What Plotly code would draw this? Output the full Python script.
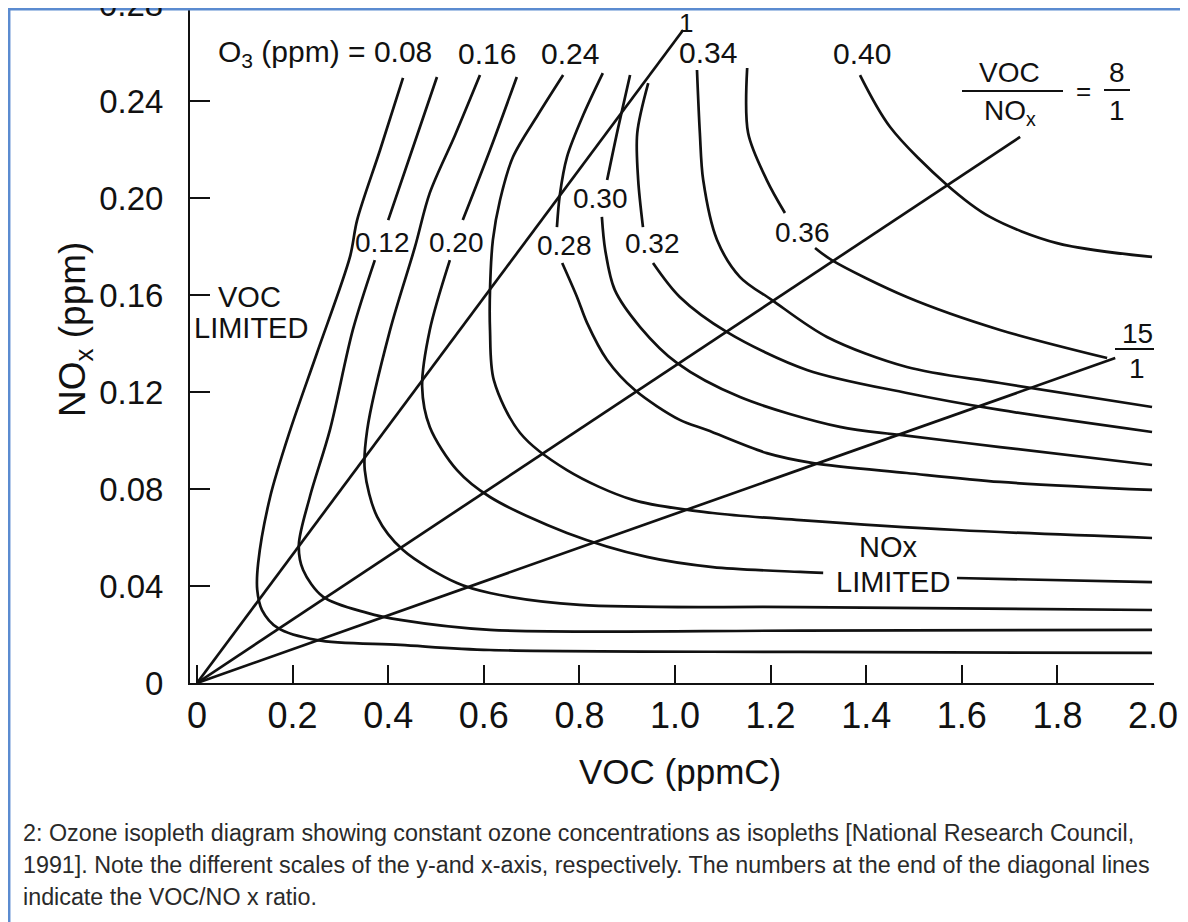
import plotly.graph_objects as go

# ---------------- data ----------------
o3_levels = ["0.08", "0.12", "0.16", "0.20", "0.24", "0.28", "0.30", "0.32", "0.34", "0.36", "0.40"]

iso_008_voc = [0.431, 0.383, 0.335, 0.320, 0.251, 0.195, 0.153, 0.128, 0.126, 0.136, 0.169, 0.251, 0.425, 0.613, 1.262, 1.998]
iso_008_nox = [0.2495, 0.2198, 0.1909, 0.1757, 0.1361, 0.1043, 0.0767, 0.0495, 0.0384, 0.0301, 0.0227, 0.0177, 0.0157, 0.0136, 0.0128, 0.0124]

iso_012_voc = [0.502, 0.450, 0.400, None, 0.372, 0.326, 0.278, 0.236, 0.213, 0.222, 0.264, 0.356, 0.425, 0.613, 1.262, 1.998]
iso_012_nox = [0.2499, 0.2198, 0.1909, None, 0.1744, 0.1456, 0.1043, 0.0767, 0.0569, 0.0466, 0.0355, 0.0289, 0.0260, 0.0219, 0.0216, 0.0219]

iso_016_voc = [0.592, 0.540, 0.487, 0.456, 0.404, 0.356, 0.351, 0.377, 0.431, 0.544, 0.613, 0.801, 1.262, 1.998]
iso_016_nox = [0.2507, 0.2260, 0.2021, 0.1798, 0.1456, 0.1043, 0.0878, 0.0685, 0.0548, 0.0412, 0.0371, 0.0322, 0.0313, 0.0301]

iso_020_voc = [0.669, 0.613, 0.556, None, 0.529, 0.487, 0.471, 0.487, 0.544, 0.613, 0.774, 0.941, 1.079, 1.262, 1.310, None, 1.590, 1.998]
iso_020_nox = [0.2499, 0.2198, 0.1909, None, 0.1744, 0.1456, 0.1221, 0.1056, 0.0878, 0.0767, 0.0619, 0.0520, 0.0478, 0.0458, 0.0454, None, 0.0433, 0.0416]

iso_024_voc = [0.766, 0.713, 0.661, 0.634, 0.619, 0.613, 0.613, 0.621, 0.676, 0.774, 0.912, 1.079, 1.262, 1.590, 1.998]
iso_024_nox = [0.2507, 0.2342, 0.2169, 0.1992, 0.1827, 0.1621, 0.1456, 0.1249, 0.1031, 0.0878, 0.0755, 0.0701, 0.0672, 0.0631, 0.0598]

iso_028_voc = [0.849, 0.808, 0.774, 0.759, 0.753, None, 0.764, 0.795, 0.816, 0.858, 0.916, 1.010, 1.067, 1.192, 1.289, 1.485, 1.680, 1.998]
iso_028_nox = [0.2515, 0.2342, 0.2169, 0.2012, 0.1880, None, 0.1732, 0.1592, 0.1485, 0.1332, 0.1208, 0.1085, 0.1043, 0.0948, 0.0907, 0.0866, 0.0829, 0.0796]

iso_030_voc = [0.906, 0.881, 0.858, None, 0.847, 0.854, 0.874, 0.927, 1.004, 1.136, 1.345, 1.471, 1.680, 1.998]
iso_030_nox = [0.2507, 0.2289, 0.2074, None, 0.1922, 0.1786, 0.1621, 0.1468, 0.1320, 0.1179, 0.1056, 0.1023, 0.0973, 0.0899]

iso_032_voc = [0.944, 0.921, 0.923, 0.933, None, 0.954, 1.010, 1.109, 1.276, 1.485, 1.680, 1.998]
iso_032_nox = [0.2474, 0.2268, 0.2074, 0.1880, None, 0.1732, 0.1592, 0.1447, 0.1291, 0.1196, 0.1126, 0.1035]

iso_034_voc = [1.046, 1.052, 1.059, 1.088, 1.136, 1.203, 1.318, 1.485, 1.680, 1.998]
iso_034_nox = [0.2528, 0.2268, 0.2074, 0.1827, 0.1674, 0.1579, 0.1427, 0.1303, 0.1237, 0.1138]

iso_036_voc = [1.151, 1.153, 1.192, 1.230, None, 1.293, 1.328, 1.485, 1.680, 1.904]
iso_036_nox = [0.2536, 0.2268, 0.2074, 0.1938, None, 0.1794, 0.1744, 0.1592, 0.1456, 0.1340]

iso_040_voc = [1.387, 1.450, 1.569, 1.659, 1.799, 1.998]
iso_040_nox = [0.2507, 0.2293, 0.2054, 0.1922, 0.1814, 0.1757]

# VOC/NOx ratio lines: start at origin, end points
ratio_labels = ["1", "8/1", "15/1"]
ratio_end_voc = [1.017, 1.722, 1.921]
ratio_end_nox = [0.2693, 0.2252, 0.1340]

x_tickvals = [0, 0.2, 0.4, 0.6, 0.8, 1.0, 1.2, 1.4, 1.6, 1.8, 2.0]
x_ticktext = ["0", "0.2", "0.4", "0.6", "0.8", "1.0", "1.2", "1.4", "1.6", "1.8", "2.0"]
y_tickvals = [0, 0.04, 0.08, 0.12, 0.16, 0.20, 0.24, 0.28]
y_ticktext = ["0", "0.04", "0.08", "0.12", "0.16", "0.20", "0.24", "0.28"]

caption_lines = [
    "2: Ozone isopleth diagram showing constant ozone concentrations as isopleths [National Research Council,",
    "1991]. Note the different scales of the y-and x-axis, respectively. The numbers at the end of the diagonal lines",
    "indicate the VOC/NO x ratio.",
]

# ---------------- layout geometry ----------------
# reference-frame pixels; the page body adds an 8px offset, so the figure is drawn shifted by OFF
OFF = 8
W, H = 1188, 922
L, R, T, B = 190, 1154, OFF, 683          # plot area in reference pixels
X0_PX, PX_PER_X = 197, 478.0
PX_PER_Y = 2425.0
x_range = [(L - X0_PX) / PX_PER_X, (R - X0_PX) / PX_PER_X]
y_range = [0, (B - T) / PX_PER_Y]

def px(xp):
    return (xp - L) / (R - L)

def py(yp):
    return (B - yp) / (B - T)

def dx(xp):
    return (xp - X0_PX) / PX_PER_X

def dy(yp):
    return (B - yp) / PX_PER_Y

FONT = "Liberation Sans, Arial, Helvetica, sans-serif"
INK = "#111111"

fig = go.Figure()

iso_sets = [
    (iso_008_voc, iso_008_nox), (iso_012_voc, iso_012_nox), (iso_016_voc, iso_016_nox),
    (iso_020_voc, iso_020_nox), (iso_024_voc, iso_024_nox), (iso_028_voc, iso_028_nox),
    (iso_030_voc, iso_030_nox), (iso_032_voc, iso_032_nox), (iso_034_voc, iso_034_nox),
    (iso_036_voc, iso_036_nox), (iso_040_voc, iso_040_nox),
]
for lvl, (xs, ys) in zip(o3_levels, iso_sets):
    fig.add_trace(go.Scatter(x=xs, y=ys, mode="lines", name="O3 " + lvl,
                             line=dict(color=INK, width=2.7, shape="spline", smoothing=0.9),
                             connectgaps=False, hoverinfo="skip"))

for lab, ex, ey in zip(ratio_labels, ratio_end_voc, ratio_end_nox):
    fig.add_trace(go.Scatter(x=[0, ex], y=[0, ey], mode="lines", name="VOC/NOx " + lab,
                             line=dict(color=INK, width=2.7), hoverinfo="skip"))

annotations = []

def txt(text, x, y, size=29, xanchor="center", ref="data", color=INK, **kw):
    d = dict(text=text, x=x, y=y, showarrow=False, xanchor=xanchor, yanchor="middle",
             font=dict(family=FONT, size=size, color=color))
    if ref == "data":
        d.update(xref="x", yref="y")
    else:
        d.update(xref="paper", yref="paper")
    d.update(kw)
    annotations.append(d)

# isopleth labels (text from o3_levels)
txt("O<sub>3</sub> (ppm) = " + o3_levels[0], dx(216), dy(53), size=30, xanchor="left")
txt(o3_levels[2], dx(487), dy(53), size=30)
txt(o3_levels[4], dx(570), dy(53), size=30)
txt(o3_levels[8], dx(708), dy(52), size=30)
txt(o3_levels[10], dx(862), dy(53), size=30)
txt(o3_levels[1], dx(382), dy(242), size=28)
txt(o3_levels[3], dx(456), dy(242), size=28)
txt(o3_levels[6], dx(600), dy(198), size=28)
txt(o3_levels[5], dx(564), dy(245), size=28)
txt(o3_levels[7], dx(652), dy(243), size=28)
txt(o3_levels[9], dx(802), dy(232), size=28)

# region labels
txt("VOC", dx(216), dy(297), xanchor="left")
txt("LIMITED", dx(192), dy(328), xanchor="left")
txt("NOx", dx(888), dy(547))
txt("LIMITED", dx(893), dy(582))

# ratio labels
txt(ratio_labels[0], dx(686), dy(23), size=26)
txt("VOC", dx(1009), dy(72), size=28)
txt("NO<sub>x</sub>", dx(1010), dy(112), size=28)
txt("=", dx(1083), dy(91), size=26)
txt(ratio_labels[1].split("/")[0], dx(1117), dy(72), size=28)
txt(ratio_labels[1].split("/")[1], dx(1117), dy(110), size=28)
txt(ratio_labels[2].split("/")[0], dx(1137), dy(333), size=28)
txt(ratio_labels[2].split("/")[1], dx(1137), dy(368), size=28)

# top y tick label that is cut by the picture edge in the reference
txt(y_ticktext[-1], px(165), py(4), size=33, xanchor="right", ref="paper")

# axis titles
txt("VOC (ppmC)", px(680), py(771), size=35, ref="paper")
txt("NO<sub>x</sub> (ppm)", px(75), py(330), size=37, ref="paper", textangle=-90)

# caption
for i, line in enumerate(caption_lines):
    txt(line, px(21), py(833 + i * 32), size=23.3, xanchor="left", ref="paper", color="#2a2a2a")

shapes = [
    # fraction bars
    dict(type="line", xref="x", yref="y", x0=dx(962), x1=dx(1063), y0=dy(91), y1=dy(91),
         line=dict(color=INK, width=2)),
    dict(type="line", xref="x", yref="y", x0=dx(1104), x1=dx(1130), y0=dy(90), y1=dy(90),
         line=dict(color=INK, width=2)),
    dict(type="line", xref="x", yref="y", x0=dx(1115), x1=dx(1157), y0=dy(349), y1=dy(349),
         line=dict(color=INK, width=2)),
    # page border (blue)
    dict(type="line", xref="paper", yref="paper", x0=px(OFF), x1=px(1200), y0=py(OFF + 1.2), y1=py(OFF + 1.2),
         line=dict(color="#5b8bd0", width=2.5)),
    dict(type="line", xref="paper", yref="paper", x0=px(OFF + 1.2), x1=px(OFF + 1.2), y0=py(OFF), y1=py(940),
         line=dict(color="#5b8bd0", width=2.5)),
]

fig.update_layout(
    width=W, height=H,
    margin=dict(l=L - OFF, r=W - (R - OFF), t=T - OFF, b=H - (B - OFF), pad=0),
    paper_bgcolor="white", plot_bgcolor="white",
    showlegend=False,
    font=dict(family=FONT, color=INK),
    annotations=annotations,
    shapes=shapes,
    xaxis=dict(range=x_range, tickvals=x_tickvals, ticktext=x_ticktext,
               ticks="inside", ticklen=18, tickwidth=2, tickcolor=INK,
               showline=True, linewidth=2, linecolor=INK, showgrid=False, zeroline=False,
               tickfont=dict(family=FONT, size=36, color=INK), ticklabelstandoff=0),
    yaxis=dict(range=y_range, tickvals=y_tickvals, ticktext=y_ticktext,
               ticks="inside", ticklen=20, tickwidth=2, tickcolor=INK,
               showline=True, linewidth=2, linecolor=INK, showgrid=False, zeroline=False,
               tickfont=dict(family=FONT, size=33, color=INK), ticklabelstandoff=18),
)

fig.write_html("out.html")
